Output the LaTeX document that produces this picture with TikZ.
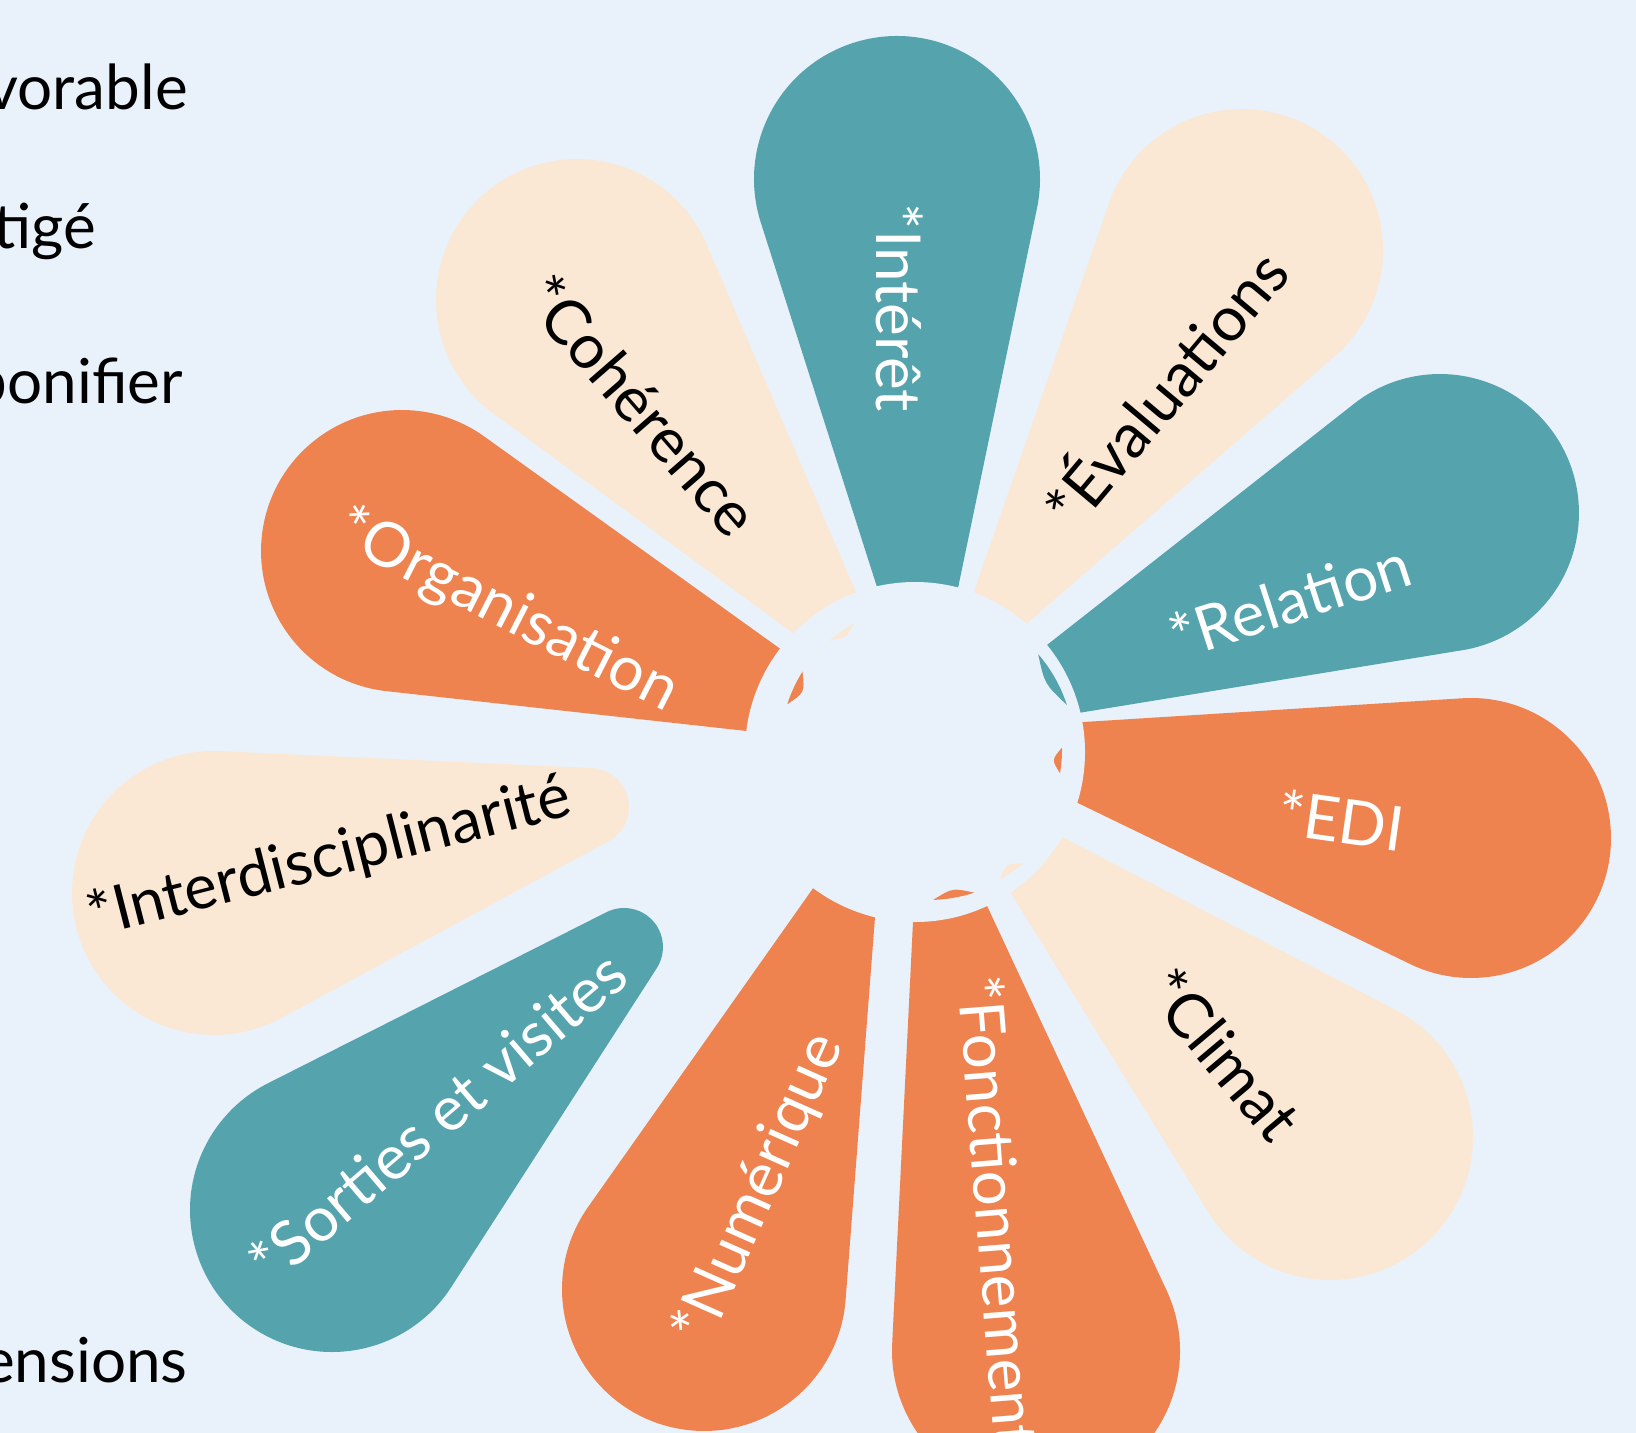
\documentclass[tikz,border=0pt]{standalone}
\usepackage{fontspec}
\setmainfont{Lato}
\definecolor{bgc}{HTML}{E9F2FA}
\definecolor{teal}{HTML}{55A3AD}
\definecolor{cream}{HTML}{FAE8D4}
\definecolor{orng}{HTML}{EF8350}
% petal: x1,y1,r1 (inner circle), x2,y2,R (outer circle), colour  -- image coordinates
\newcommand{\drawpetal}[7]{%
  \pgfmathsetmacro{\petdx}{#4-#1}%
  \pgfmathsetmacro{\petdy}{-(#5-#2)}%
  \pgfmathsetmacro{\petL}{veclen(\petdx,\petdy)}%
  \pgfmathsetmacro{\petth}{atan2(\petdy,\petdx)}%
  \pgfmathsetmacro{\petA}{asin((#6-#3)/\petL)}%
  \begin{scope}[shift={(#1,-#2)}, rotate=\petth]
    \fill[#7] ({-#3*sin(\petA)},{#3*cos(\petA)}) -- ({\petL-#6*sin(\petA)},{#6*cos(\petA)})
      arc[start angle={90+\petA}, end angle={-90-\petA}, radius=#6bp]
      -- ({-#3*sin(\petA)},{-#3*cos(\petA)})
      arc[start angle={270-\petA}, end angle={90+\petA}, radius=#3bp] -- cycle;
  \end{scope}}
% sliver: start angle, end angle, outer radius, inner depth, colour (around the hub centre)
\newcommand{\sliver}[5]{%
  \fill[#5] (#1:#3) arc[start angle=#1, end angle=#2, radius=#3bp]
    .. controls ({(#1+#2)/2}:{#3-2*#4}) .. (#1:#3) -- cycle;}
\tikzset{
  lbl/.style={inner sep=0pt, anchor=base, font=\fontsize{62bp}{74bp}\selectfont},
  side/.style={inner sep=0pt, anchor=base east, font=\fontsize{62bp}{74bp}\selectfont, text=black}
}
\begin{document}
\begin{tikzpicture}[x=1bp, y=1bp]
\useasboundingbox (0,0) rectangle (1636,-1433);
\clip (0,0) rectangle (1636,-1433);
\fill[bgc] (0,0) rectangle (1636,-1433);
% petals
\drawpetal{918}{584}{40}{897}{179}{143}{teal}      % Interet
\drawpetal{1007}{597}{33}{1242}{250}{141}{cream}   % Evaluations
\drawpetal{1069}{676}{38}{1440}{513}{139}{teal}    % Relation
\drawpetal{1085}{762}{40}{1471}{838}{140}{orng}    % EDI
\drawpetal{1043}{871}{39}{1330}{1137}{143}{cream}  % Climat
\drawpetal{952}{923}{39}{1036}{1351}{144}{orng}    % Fonctionnement
\drawpetal{843}{903}{33}{704}{1289}{142}{orng}     % Numerique
\drawpetal{624}{947}{39}{332}{1210}{142}{teal}     % Sorties
\drawpetal{590}{807}{39}{214}{893}{142}{cream}     % Interdisciplinarite
\drawpetal{767}{691}{42}{402}{551}{141}{orng}      % Organisation
\drawpetal{830}{618}{34}{577}{300}{141}{cream}     % Coherence
% centre disc
\fill[bgc] (915,-752) circle[radius=170bp];
% thin remnants inside the hub
\begin{scope}[shift={(928,-750)}]
  \sliver{148}{162}{148}{6}{orng}
  \sliver{18}{41}{146}{6}{teal}
  \sliver{-10}{1}{134}{5}{orng}
  \sliver{-88}{-72}{150}{5}{orng}
  \sliver{120}{132}{147}{4}{cream}
  \sliver{-61}{-50}{148}{5}{cream}
\end{scope}
% labels
\node[lbl, text=white, rotate=-90] (interet) at (876,-308) {*Intérêt};
\node[lbl, text=black, rotate=50] (eval) at (1184,-404) {*Évaluations};
\node[lbl, text=white, rotate=18] (relation) at (1297,-622) {*Relation};
\node[lbl, text=white, rotate=-8] (edi) at (1338,-843) {*EDI};
\node[lbl, text=black, rotate=-50] (climat) at (1206,-1069) {*Climat};
\node[lbl, text=white, rotate=-85.5] (fonct) at (976,-1213) {*Fonctionnement};
\node[lbl, text=white, rotate=66] (num) at (776,-1196) {*Numérique};
\node[lbl, text=white, rotate=40.5] (sorties) at (452,-1134) {*Sorties et visites};
\node[lbl, text=black, rotate=14.3] (interd) at (334,-876) {*Interdisciplinarité};
\node[lbl, text=white, rotate=-27] (organ) at (499,-627) {*Organisation};
\node[lbl, text=black, rotate=-49] (coher) at (624,-420) {*Cohérence};
% left side text
\node[side] (t1) at (188,-110) {vorable};
\node[side] (t2) at (96,-248) {tigé};
\node[side] (t3) at (183,-403) {bonifier};
\node[side] (t4) at (188,-1382) {ensions};
\end{tikzpicture}
\end{document}
